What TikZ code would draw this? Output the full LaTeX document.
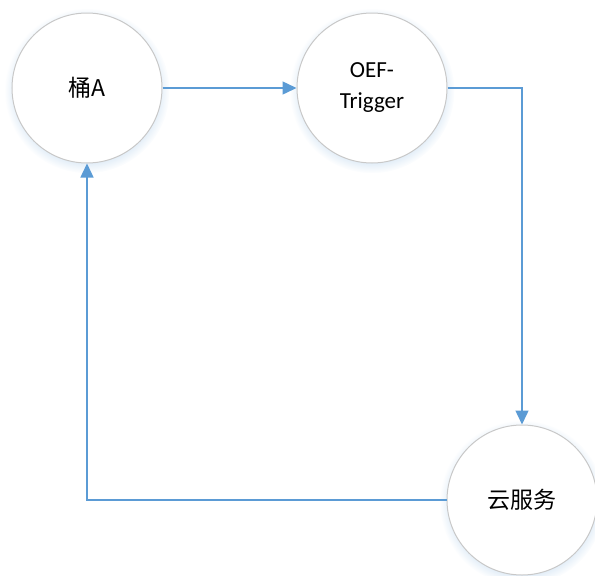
\documentclass[tikz,border=0pt]{standalone}
\usepackage{fontspec}
\setmainfont{Carlito}
\newfontfamily\cjk{Noto Sans CJK SC}
\usetikzlibrary{arrows.meta,shadows}
\definecolor{linkblue}{HTML}{5B9BD5}
\definecolor{ringgray}{HTML}{C8C8C8}
\begin{document}
\begin{tikzpicture}[x=1pt,y=-1pt,
  nodecirc/.style={circle,draw=ringgray,line width=1pt,fill=white,minimum size=150pt,inner sep=0pt,align=center,
    font=\fontsize{23}{31}\selectfont,
    circular drop shadow={shadow xshift=0pt,shadow yshift=-2.5pt,fill=linkblue!50,opacity=0.4}},
  conn/.style={draw=linkblue,line width=1.5pt,-{Triangle[length=14pt,width=13pt]}}]
\useasboundingbox (0,0) rectangle (595,576);
\clip (0,0) rectangle (595,576);
\node[nodecirc] (a) at (87,88) {{\cjk 桶A}};
\node[nodecirc] (t) at (372,88) {OEF-\\Trigger};
\node[nodecirc] (c) at (522,500) {{\cjk 云服务}};
\draw[conn] (a.east) -- (t.west);
\draw[conn] (t.east) -| (c.north);
\draw[conn] (c.west) -| (a.south);
\end{tikzpicture}
\end{document}
